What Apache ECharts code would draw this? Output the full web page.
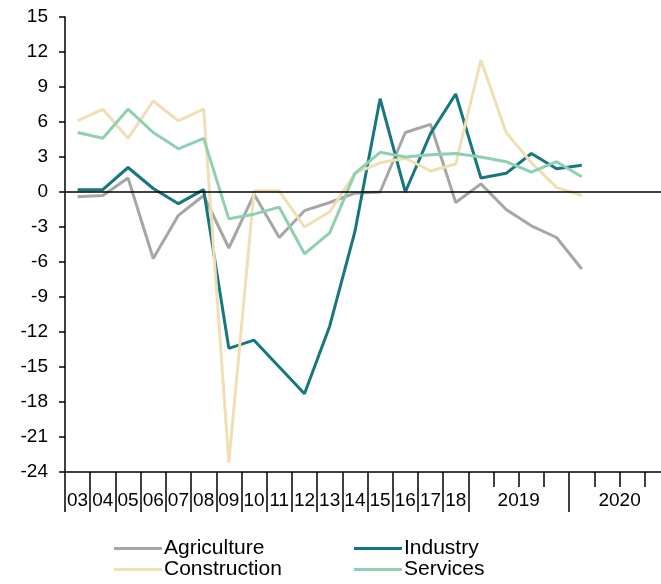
<!DOCTYPE html>
<html>
<head>
<meta charset="utf-8">
<script src="https://cdn.jsdelivr.net/npm/echarts@6/dist/echarts.min.js"></script>
<style>html,body{margin:0;padding:0;background:#fff}#c{width:661px;height:584px}</style>
</head>
<body>
<div id="c"></div>
<script>
const years = ['03','04','05','06','07','08','09','10','11','12','13','14','15','16','17','18'];
const quarters = ['2019Q1','2019Q2','2019Q3','2019Q4','2020Q1','2020Q2','2020Q3','2020Q4'];
const groupLabels = ['2019','2020'];
const categories = years.concat(quarters);

const agriculture = [-0.4,-0.3,1.2,-5.7,-2.0,-0.3,-4.8,-0.2,-3.9,-1.6,-0.9,-0.1,0.0,5.1,5.8,-0.9,0.7,-1.5,-2.9,-3.9,-6.6];
const industry = [0.2,0.2,2.1,0.3,-1.0,0.2,-13.4,-12.7,-15.0,-17.3,-11.5,-3.4,8.0,0.0,5.0,8.4,1.2,1.6,3.3,2.0,2.3];
const construction = [6.1,7.1,4.6,7.8,6.1,7.1,-23.2,0.1,0.1,-3.0,-1.7,1.6,2.5,2.9,1.8,2.4,11.3,5.1,2.5,0.4,-0.3];
const services = [5.1,4.6,7.1,5.1,3.7,4.6,-2.3,-1.9,-1.3,-5.3,-3.5,1.6,3.4,3.0,3.2,3.3,3.0,2.6,1.7,2.6,1.3];

const colors = {agri:'#a6a6a6', ind:'#17777f', con:'#f0dfb5', ser:'#8fd0b1'};
const font = 'Liberation Sans, Arial, sans-serif';

const chart = echarts.init(document.getElementById('c'), null, {renderer:'canvas'});
function line(name, data, color, extra) {
  return Object.assign({
    name, type:'line', data, xAxisIndex:0, yAxisIndex:0,
    symbol:'none', lineStyle:{width:3, color}, itemStyle:{color},
    animation:false
  }, extra || {});
}
const legendBase = {orient:'vertical', top:538, padding:0, itemWidth:48, itemHeight:3, itemGap:0, icon:'rect',
  textStyle:{fontFamily:font, fontSize:21, lineHeight:21, color:'#000', padding:[0,0,0,-3]}};
chart.setOption({
  backgroundColor:'#fff',
  animation:false,
  grid:{left:65, top:17, height:455, width:605, containLabel:false, outerBoundsMode:'none'},
  legend:[
    Object.assign({data:['Agriculture','Construction'], left:114}, legendBase),
    Object.assign({data:['Industry','Services'], left:354}, legendBase)
  ],
  xAxis:[
    {type:'category', data:categories, boundaryGap:true, position:'bottom',
     axisLine:{onZero:false, lineStyle:{color:'#000', width:1.5}},
     axisTick:{show:true, length:15, lineStyle:{color:'#000', width:1.5}, interval:0},
     axisLabel:{show:false}, splitLine:{show:false}},
    {type:'category', data:categories, boundaryGap:true, position:'bottom', gridIndex:0,
     axisLine:{show:false, onZero:false},
     axisTick:{show:true, length:40, lineStyle:{color:'#000', width:1.5},
       interval:function(i){ return i <= years.length || i === years.length + 4; }},
     axisLabel:{show:false}, splitLine:{show:false}},
    {type:'value', min:0, max:categories.length, interval:0.5, position:'bottom', gridIndex:0,
     axisLine:{show:false, onZero:false}, axisTick:{show:false}, splitLine:{show:false},
     axisLabel:{show:true, margin:19, fontFamily:font, fontSize:19, color:'#000', showMinLabel:true, showMaxLabel:true,
       formatter:function(v){
         if (v < years.length && Math.abs(v - Math.floor(v) - 0.5) < 1e-6) return years[Math.floor(v)];
         if (Math.abs(v - (years.length + 2)) < 1e-6) return groupLabels[0];
         if (Math.abs(v - (years.length + 6)) < 1e-6) return groupLabels[1];
         return '';
       }}}
  ],
  yAxis:{type:'value', min:-24, max:15, interval:3,
    axisLine:{show:true, onZero:false, lineStyle:{color:'#000', width:1.5}},
    axisTick:{show:true, length:6, lineStyle:{color:'#000', width:1.5}},
    axisLabel:{fontFamily:font, fontSize:19, color:'#000', margin:17},
    splitLine:{show:false}},
  series:[
    line('Agriculture', agriculture, colors.agri),
    line('Industry', industry, colors.ind),
    line('Construction', construction, colors.con),
    line('Services', services, colors.ser, {
      markLine:{silent:true, symbol:'none', animation:false, label:{show:false},
        lineStyle:{color:'#000', width:1.5, type:'solid'}, data:[{yAxis:0}]}
    })
  ]
});
</script>
</body>
</html>
